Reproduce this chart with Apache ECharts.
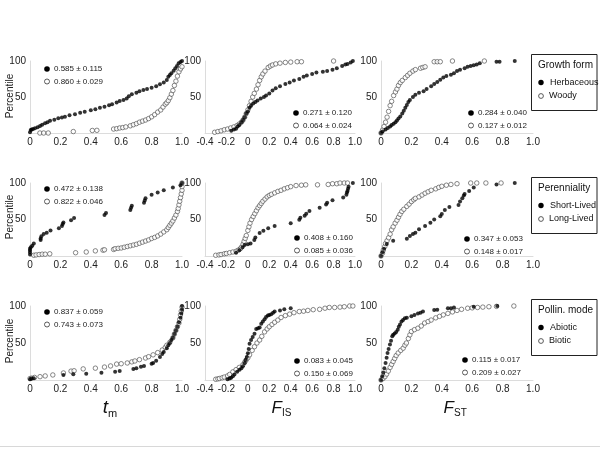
<!DOCTYPE html>
<html><head><meta charset="utf-8">
<script src="https://cdn.jsdelivr.net/npm/echarts@6/dist/echarts.min.js"></script>
<style>html,body{margin:0;padding:0;background:#fff}#c{width:600px;height:450px}</style>
</head><body><div id="c"></div>
<script>
// ---- data: [x, percentile] ----
const tmGrowthHerb=[[0,1],[0.005,4],[0.011,5],[0.02,5.5],[0.033,6.5],[0.05,8],[0.066,9.7],[0.08,11.5],[0.099,13.4],[0.115,15],[0.132,17],[0.16,18.5],[0.186,20.4],[0.21,21.5],[0.23,22.7],[0.26,24.5],[0.296,26],[0.33,28],[0.36,29.6],[0.4,31.5],[0.43,33],[0.46,35],[0.49,36.6],[0.52,38.5],[0.54,40],[0.57,42.5],[0.59,44.4],[0.615,46],[0.636,48],[0.65,51],[0.67,53.7],[0.7,56],[0.72,58],[0.746,59.7],[0.77,61],[0.8,63],[0.83,65],[0.855,67.6],[0.88,70],[0.9,73.6],[0.91,78],[0.92,80.5],[0.93,83],[0.945,86.5],[0.956,89.8],[0.967,93],[0.978,96.8],[0.99,98.5],[1.0,100]];
const tmGrowthWoody=[[0.065,0],[0.09,0],[0.12,0],[0.285,2],[0.41,3.5],[0.44,3.7],[0.55,5.5],[0.57,6],[0.59,7],[0.61,7.5],[0.63,8.5],[0.66,10],[0.68,11.5],[0.7,13],[0.72,15],[0.74,16.5],[0.76,18],[0.78,20],[0.8,22.5],[0.82,25.5],[0.84,29],[0.86,32],[0.875,36],[0.89,40],[0.9,42],[0.91,45],[0.92,49],[0.93,54],[0.94,59],[0.95,66],[0.96,72],[0.97,79],[0.98,85],[0.99,89],[1.0,92]];
const fisGrowthHerb=[[-0.155,3],[-0.13,5],[-0.11,6],[-0.095,9],[-0.08,11],[-0.06,15],[-0.045,18],[-0.03,22],[-0.015,27],[0,30],[0.015,35],[0.03,38],[0.05,41],[0.07,43],[0.09,45],[0.12,48],[0.15,50],[0.17,52],[0.2,55],[0.23,59],[0.26,62],[0.3,65],[0.35,68],[0.39,70],[0.43,73],[0.48,75],[0.52,78],[0.55,80],[0.6,82],[0.64,84],[0.7,85],[0.74,86],[0.79,88],[0.83,90],[0.88,93],[0.91,95],[0.93,96],[0.96,98],[0.98,100]];
const fisGrowthWoody=[[-0.31,1],[-0.28,2],[-0.25,3],[-0.22,4.5],[-0.19,5.5],[-0.16,7],[-0.13,8.5],[-0.1,10.5],[-0.08,12.5],[-0.06,15],[-0.045,18],[-0.03,22],[-0.015,27],[0,32],[0.015,38],[0.03,44],[0.045,50],[0.06,55],[0.08,61],[0.095,67],[0.11,73],[0.125,78],[0.14,82],[0.16,86],[0.19,91],[0.21,93],[0.23,94.5],[0.26,96],[0.3,97],[0.35,98],[0.4,98.5],[0.46,99],[0.5,99],[0.8,100]];
const fstGrowthHerb=[[0,0],[0.01,2],[0.03,5],[0.045,7],[0.06,9],[0.07,11],[0.083,13],[0.095,15],[0.105,17.5],[0.115,20],[0.127,23],[0.14,27],[0.15,31],[0.16,35],[0.17,39],[0.18,43],[0.19,46],[0.21,50],[0.226,53],[0.25,56],[0.28,58],[0.3,61],[0.33,65],[0.35,68],[0.37,71],[0.39,74],[0.41,77],[0.43,79],[0.46,81],[0.48,83],[0.5,86],[0.52,88],[0.55,90],[0.57,92],[0.59,93],[0.61,94],[0.63,95],[0.65,97],[0.76,99],[0.78,99],[0.88,100]];
const fstGrowthWoody=[[0,0],[0.01,4],[0.02,9],[0.03,15],[0.04,22],[0.05,30],[0.06,38],[0.07,44],[0.083,52],[0.095,57],[0.105,61],[0.115,66],[0.127,70],[0.14,73],[0.16,77],[0.175,80],[0.19,83],[0.21,86],[0.226,88],[0.26,90],[0.275,91],[0.29,92],[0.35,99],[0.37,99],[0.39,99],[0.47,100],[0.68,100]];

const tmPerenShort=[[0,2],[0,5],[0,8],[0,10],[0.005,12],[0.015,14],[0.025,17],[0.07,22],[0.07,24],[0.075,27],[0.09,30],[0.11,32],[0.135,35],[0.19,38],[0.21,41],[0.215,44],[0.22,46],[0.27,49],[0.29,52],[0.49,56],[0.5,59],[0.66,63],[0.665,66],[0.67,69],[0.75,73],[0.755,76],[0.76,79],[0.8,84],[0.84,87],[0.88,90],[0.94,94],[0.99,97],[1.0,100]];
const tmPerenLong=[[0.025,1],[0.04,1.5],[0.06,2],[0.08,2.5],[0.1,2.5],[0.13,3],[0.3,4.5],[0.37,5.5],[0.43,7],[0.48,8],[0.49,8.5],[0.55,9],[0.56,10],[0.58,10.5],[0.6,11],[0.62,12],[0.64,13],[0.66,14],[0.68,15],[0.7,16],[0.72,17.5],[0.74,19],[0.76,20.5],[0.78,22],[0.8,24],[0.82,25.5],[0.84,27.5],[0.86,30],[0.88,33],[0.9,36],[0.91,39],[0.92,42],[0.93,45],[0.94,48],[0.95,52],[0.96,56],[0.97,61],[0.975,65],[0.98,70],[0.985,75],[0.99,80],[0.995,85],[1.0,90],[1.0,95],[1.0,100]];
const fisPerenShort=[[-0.11,4.5],[-0.08,8],[-0.05,12],[-0.03,15],[0,16],[0.025,17],[0.06,22],[0.07,25.5],[0.11,31.5],[0.145,34.5],[0.19,38],[0.25,41],[0.4,45],[0.48,49.5],[0.49,52.5],[0.53,55],[0.545,58],[0.575,61.5],[0.67,66],[0.73,70.5],[0.74,73],[0.79,76.5],[0.89,80],[0.92,84],[0.925,87],[0.93,89],[0.935,92],[0.94,95],[0.98,100]];
const fisPerenLong=[[-0.3,1],[-0.27,1.5],[-0.25,2],[-0.22,3],[-0.2,3.5],[-0.17,4.5],[-0.14,5.5],[-0.11,6.5],[-0.09,8],[-0.07,10],[-0.06,12],[-0.045,16],[-0.035,20],[-0.025,24],[-0.015,28],[0,35],[0.01,40],[0.02,45],[0.035,50],[0.05,54],[0.065,58],[0.08,62],[0.095,66],[0.11,69],[0.125,72],[0.14,75],[0.16,78],[0.18,81],[0.2,83],[0.22,84.5],[0.25,86.5],[0.28,88.5],[0.31,90],[0.34,92],[0.37,93.5],[0.4,95],[0.45,96.5],[0.5,97],[0.54,97.5],[0.65,97.5],[0.75,98],[0.79,99],[0.83,99],[0.86,100],[0.9,100],[0.93,100]];
const fstPerenShort=[[0,0],[0.01,5],[0.02,10],[0.038,16.5],[0.08,21],[0.17,23.5],[0.19,27.5],[0.21,30],[0.226,32],[0.25,36.5],[0.29,41],[0.325,45.5],[0.35,50],[0.39,54.5],[0.4,57.5],[0.42,63],[0.45,67],[0.51,70],[0.52,74.5],[0.535,79],[0.545,83],[0.55,85],[0.58,89],[0.61,94],[0.76,98],[0.88,100]];
const fstPerenLong=[[0,0],[0.01,4],[0.015,8],[0.025,13],[0.03,17],[0.04,21],[0.05,25],[0.06,30],[0.07,36],[0.08,40],[0.093,45],[0.105,49],[0.115,53],[0.125,57],[0.137,61],[0.15,64],[0.17,68],[0.185,71],[0.2,74.5],[0.215,77],[0.226,79],[0.25,81],[0.27,83.5],[0.29,86],[0.31,88],[0.33,90],[0.36,92],[0.38,94],[0.4,95.5],[0.43,97],[0.46,98],[0.5,99],[0.59,100],[0.63,100],[0.69,100],[0.79,100]];

const tmPollAbiotic=[[0,1],[0.01,2],[0.025,2.5],[0.22,6.8],[0.285,7.7],[0.37,8.5],[0.47,9.9],[0.56,11.2],[0.59,12],[0.68,15],[0.7,16],[0.73,18],[0.75,19],[0.8,22],[0.81,23],[0.83,26],[0.855,31],[0.87,35],[0.88,38],[0.9,43],[0.91,47],[0.92,50],[0.93,54],[0.94,57],[0.95,62],[0.96,67],[0.97,72],[0.98,78],[0.99,84],[0.995,90],[1.0,95],[1.0,100]];
const tmPollBiotic=[[0,2],[0.01,2.5],[0.03,3.5],[0.066,4.5],[0.1,5.5],[0.15,6.8],[0.22,9.5],[0.27,12],[0.29,12.5],[0.35,15],[0.43,16],[0.49,17.5],[0.53,19],[0.57,21.5],[0.6,22],[0.64,23],[0.67,24.5],[0.69,25.7],[0.72,27.5],[0.76,29.7],[0.78,31.5],[0.81,34],[0.84,37],[0.87,40.5],[0.89,44],[0.9,47],[0.92,51],[0.94,57],[0.95,62],[0.96,67],[0.97,72],[0.98,77],[0.985,82],[0.99,88],[0.995,93],[1.0,98.5]];
const fisPollAbiotic=[[-0.19,1],[-0.17,2],[-0.156,3],[-0.14,5],[-0.125,7.5],[-0.1,11],[-0.078,14],[-0.06,16],[-0.047,18.5],[-0.03,23],[-0.02,27],[-0.01,31],[0,36],[0.008,42],[0.016,49],[0.03,54],[0.045,58],[0.062,62.5],[0.078,69],[0.095,70],[0.11,71],[0.125,76],[0.14,79],[0.156,82],[0.17,85],[0.187,87],[0.2,88],[0.218,89],[0.235,91],[0.25,92.5],[0.3,94],[0.34,95.5],[0.4,97]];
const fisPollBiotic=[[-0.3,1],[-0.28,1.5],[-0.265,2],[-0.24,3],[-0.22,4],[-0.19,5.5],[-0.17,7.5],[-0.14,11],[-0.11,14],[-0.08,17],[-0.047,20.5],[-0.03,24],[-0.016,27],[0,30],[0.016,34],[0.04,40],[0.062,45],[0.085,50],[0.11,54],[0.13,59],[0.156,65],[0.18,69],[0.2,72],[0.225,75],[0.25,78],[0.28,81],[0.31,84.5],[0.35,87],[0.39,89],[0.43,91],[0.48,92.5],[0.52,93],[0.56,94],[0.61,95],[0.67,95.5],[0.72,97],[0.76,98],[0.81,98],[0.86,98.5],[0.9,99],[0.95,100],[0.98,100]];
const fstPollAbiotic=[[0,0],[0.008,5],[0.015,10],[0.022,16],[0.03,23],[0.037,30],[0.043,36.5],[0.05,42],[0.059,48],[0.066,53],[0.074,59],[0.08,61],[0.09,63],[0.1,65],[0.11,68],[0.117,72],[0.125,75],[0.135,79],[0.145,81],[0.157,83.5],[0.17,84],[0.2,86],[0.22,88],[0.243,90],[0.26,91],[0.276,92.5],[0.35,94.5],[0.37,95],[0.44,97],[0.46,97],[0.48,98],[0.61,99],[0.765,100]];
const fstPollBiotic=[[0,0],[0.013,2],[0.026,4.5],[0.037,8],[0.048,12],[0.06,17],[0.07,21],[0.08,25],[0.09,29],[0.1,33],[0.113,36.5],[0.13,40],[0.146,43],[0.157,47],[0.167,50],[0.18,56],[0.19,61],[0.2,65.5],[0.22,68],[0.243,70],[0.265,73],[0.287,77],[0.31,79],[0.33,81],[0.36,84],[0.385,86],[0.41,88],[0.44,90],[0.47,92],[0.5,94],[0.53,95.5],[0.57,97],[0.6,97.5],[0.635,98],[0.67,98.5],[0.71,99],[0.76,99.5],[0.874,100]];

// stats labels per panel [filled, open], rows x cols
const statLabels=[
  [["0.585 ± 0.115","0.860 ± 0.029"],["0.271 ± 0.120","0.064 ± 0.024"],["0.284 ± 0.040","0.127 ± 0.012"]],
  [["0.472 ± 0.138","0.822 ± 0.046"],["0.408 ± 0.160","0.085 ± 0.036"],["0.347 ± 0.053","0.148 ± 0.017"]],
  [["0.837 ± 0.059","0.743 ± 0.073"],["0.083 ± 0.045","0.150 ± 0.069"],["0.115 ± 0.017","0.209 ± 0.027"]]
];
const legendTitles=["Growth form","Perenniality","Pollin. mode"];
const legendItems=[["Herbaceous","Woody"],["Short-Lived","Long-Lived"],["Abiotic","Biotic"]];
const xTicksA=[0,0.2,0.4,0.6,0.8,1.0];
const xTicksB=[-0.4,-0.2,0,0.2,0.4,0.6,0.8,1.0];
const yTicks=[50,100];

const panelData=[
  [[tmGrowthHerb,tmGrowthWoody],[fisGrowthHerb,fisGrowthWoody],[fstGrowthHerb,fstGrowthWoody]],
  [[tmPerenShort,tmPerenLong],[fisPerenShort,fisPerenLong],[fstPerenShort,fstPerenLong]],
  [[tmPollAbiotic,tmPollBiotic],[fisPollAbiotic,fisPollBiotic],[fstPollAbiotic,fstPollBiotic]]
];

// ---- layout ----
const FONT='"Liberation Sans", Arial, sans-serif';
const gTop=[61,183,306], gH=[72,73,74];
const gLeft=[30,205,381], gW=[152,150,152];
const grid=[],xAxis=[],yAxis=[],series=[],graphic=[];
const fmt=v=>Math.abs(v)<1e-9?'0':(+v).toFixed(1);
for(let r=0;r<3;r++)for(let c=0;c<3;c++){
  const i=r*3+c;
  grid.push({left:gLeft[c],top:gTop[r],width:gW[c],height:gH[r],containLabel:false});
  const ticks=c===1?xTicksB:xTicksA;
  xAxis.push({gridIndex:i,type:'value',min:ticks[0],max:ticks[ticks.length-1],interval:0.2,
    axisLine:{onZero:false,lineStyle:{color:'#dcdcdc',width:1}},axisTick:{show:false},splitLine:{show:false},
    axisLabel:{formatter:fmt,fontFamily:FONT,fontSize:10,color:'#222',margin:4}});
  yAxis.push({gridIndex:i,type:'value',min:0,max:yTicks[yTicks.length-1],interval:yTicks[0],
    axisLine:{show:true,onZero:false,lineStyle:{color:'#dcdcdc',width:1}},axisTick:{show:false},splitLine:{show:false},
    axisLabel:{formatter:v=>v===0?'':String(v),fontFamily:FONT,fontSize:10,color:'#222',margin:4}});
  const [filled,open]=panelData[r][c];
  series.push({type:'scatter',xAxisIndex:i,yAxisIndex:i,data:open,symbol:'circle',symbolSize:4.5,
    itemStyle:{color:'#fff',borderColor:'#444',borderWidth:0.8},silent:true,z:2});
  series.push({type:'scatter',xAxisIndex:i,yAxisIndex:i,data:filled,symbol:'circle',symbolSize:4,
    itemStyle:{color:'#000'},silent:true,z:3});
}
// stat annotations
const statPos=[
  [[47,69],[296,113],[471,113]],
  [[47,189],[297,238],[467,239]],
  [[47,312],[297,361],[465,360]]
];
for(let r=0;r<3;r++)for(let c=0;c<3;c++){
  const [x,y]=statPos[r][c];
  graphic.push({type:'circle',shape:{cx:x,cy:y,r:2.8},style:{fill:'#000'}});
  graphic.push({type:'circle',shape:{cx:x,cy:y+12.5,r:2.5},style:{fill:'#fff',stroke:'#333',lineWidth:0.8}});
  graphic.push({type:'text',x:x+7,y:y,style:{text:statLabels[r][c][0],font:'8px '+FONT,fill:'#222',textVerticalAlign:'middle'}});
  graphic.push({type:'text',x:x+7,y:y+12.5,style:{text:statLabels[r][c][1],font:'8px '+FONT,fill:'#222',textVerticalAlign:'middle'}});
}
// legend boxes
const legTop=[54,177,299];
for(let r=0;r<3;r++){
  const t=legTop[r];
  graphic.push({type:'rect',shape:{x:531.5,y:t+0.5,width:65.5,height:56},style:{fill:'#fff',stroke:'#222',lineWidth:1}});
  graphic.push({type:'text',x:538,y:t+11.5,style:{text:legendTitles[r],font:'10px '+FONT,fill:'#111',textVerticalAlign:'middle'}});
  graphic.push({type:'circle',shape:{cx:541,cy:t+28.5,r:2.7},style:{fill:'#000'}});
  graphic.push({type:'circle',shape:{cx:541,cy:t+42,r:2.4},style:{fill:'#fff',stroke:'#333',lineWidth:0.8}});
  graphic.push({type:'text',x:550,y:t+28.5,style:{text:legendItems[r][0],font:'9px '+FONT,fill:'#111',textVerticalAlign:'middle'}});
  graphic.push({type:'text',x:549,y:t+42,style:{text:legendItems[r][1],font:'9px '+FONT,fill:'#111',textVerticalAlign:'middle'}});
}
// y titles
[96,217,341].forEach(cy=>{
  graphic.push({type:'text',x:10,y:cy,rotation:Math.PI/2,style:{text:'Percentile',font:'10px '+FONT,fill:'#222',textAlign:'center',textVerticalAlign:'middle'}});
});
// x titles
graphic.push({type:'text',x:108,y:408,style:{text:'t',font:'italic 19px '+FONT,fill:'#111',textAlign:'right',textVerticalAlign:'middle'}});
graphic.push({type:'text',x:108,y:413.5,style:{text:'m',font:'11px '+FONT,fill:'#111',textAlign:'left',textVerticalAlign:'middle'}});
graphic.push({type:'text',x:282,y:408,style:{text:'F',font:'italic 17px '+FONT,fill:'#111',textAlign:'right',textVerticalAlign:'middle'}});
graphic.push({type:'text',x:282,y:413.5,style:{text:'IS',font:'10px '+FONT,fill:'#111',textAlign:'left',textVerticalAlign:'middle'}});
graphic.push({type:'text',x:454,y:408,style:{text:'F',font:'italic 17px '+FONT,fill:'#111',textAlign:'right',textVerticalAlign:'middle'}});
graphic.push({type:'text',x:454,y:413.5,style:{text:'ST',font:'10px '+FONT,fill:'#111',textAlign:'left',textVerticalAlign:'middle'}});
// bottom frame line
graphic.push({type:'rect',shape:{x:0,y:446,width:600,height:1},style:{fill:'#d8d8d8'}});

const chart=echarts.init(document.getElementById('c'),null,{renderer:'canvas'});
chart.setOption({animation:false,backgroundColor:'#fff',grid,xAxis,yAxis,series,graphic});
</script></body></html>
